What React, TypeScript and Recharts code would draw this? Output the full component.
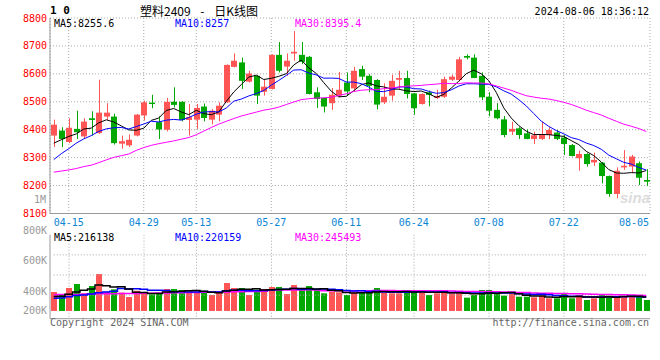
import React from 'react';
import { ComposedChart, Bar, Line, XAxis, YAxis, CartesianGrid } from 'recharts';

const MONO = '"DejaVu Sans Mono", monospace';
const RED = '#ff5555';
const GREEN = '#00a800';
const BORDER = '#999999';
const GRID = '#aaaaaa';

const dates = [
  '04-11', '04-12', '04-15', '04-16', '04-17', '04-18', '04-19', '04-22', '04-23', '04-24',
  '04-25', '04-26', '04-29', '04-30', '05-06', '05-07', '05-08', '05-09', '05-10', '05-13',
  '05-14', '05-15', '05-16', '05-17', '05-20', '05-21', '05-22', '05-23', '05-24', '05-27',
  '05-28', '05-29', '05-30', '05-31', '06-03', '06-04', '06-05', '06-06', '06-07', '06-11',
  '06-12', '06-13', '06-14', '06-17', '06-18', '06-19', '06-20', '06-21', '06-24', '06-25',
  '06-26', '06-27', '06-28', '07-01', '07-02', '07-03', '07-04', '07-05', '07-08', '07-09',
  '07-10', '07-11', '07-12', '07-15', '07-16', '07-17', '07-18', '07-19', '07-22', '07-23',
  '07-24', '07-25', '07-26', '07-29', '07-30', '07-31', '08-01', '08-02', '08-05', '08-06',
];

const opens = [
  8379, 8397, 8356, 8403, 8376, 8441, 8388, 8447, 8447, 8350,
  8344, 8379, 8451, 8497, 8427, 8400, 8500, 8500, 8435, 8436,
  8483, 8436, 8454, 8498, 8625, 8641, 8572, 8593, 8536, 8546,
  8668, 8626, 8673, 8668, 8661, 8534, 8514, 8495, 8522, 8569,
  8548, 8617, 8593, 8578, 8498, 8522, 8579, 8585, 8530, 8492,
  8534, 8514, 8518, 8579, 8578, 8664, 8658, 8593, 8518, 8471,
  8437, 8393, 8405, 8387, 8367, 8367, 8381, 8390, 8372, 8345,
  8298, 8313, 8283, 8282, 8234, 8170, 8265, 8268, 8280, 8220,
];
const highs = [
  8436, 8409, 8441, 8468, 8441, 8466, 8579, 8495, 8457, 8379,
  8383, 8456, 8504, 8525, 8448, 8514, 8552, 8502, 8492, 8492,
  8494, 8474, 8498, 8634, 8673, 8658, 8611, 8595, 8578, 8670,
  8714, 8673, 8753, 8714, 8664, 8552, 8516, 8549, 8607, 8605,
  8625, 8629, 8599, 8581, 8566, 8597, 8611, 8611, 8532, 8530,
  8540, 8543, 8590, 8597, 8661, 8670, 8670, 8605, 8534, 8495,
  8449, 8429, 8409, 8401, 8393, 8429, 8409, 8399, 8381, 8349,
  8325, 8316, 8318, 8284, 8236, 8265, 8327, 8310, 8286, 8259,
];
const lows = [
  8338, 8338, 8352, 8367, 8367, 8379, 8385, 8435, 8347, 8332,
  8338, 8376, 8433, 8477, 8367, 8394, 8480, 8430, 8379, 8403,
  8430, 8419, 8430, 8496, 8623, 8546, 8569, 8492, 8522, 8544,
  8605, 8593, 8647, 8635, 8526, 8478, 8462, 8471, 8516, 8522,
  8536, 8578, 8534, 8473, 8492, 8504, 8546, 8512, 8454, 8490,
  8484, 8510, 8514, 8575, 8573, 8652, 8585, 8506, 8448, 8437,
  8373, 8381, 8367, 8366, 8349, 8363, 8366, 8363, 8310, 8304,
  8253, 8268, 8270, 8208, 8160, 8154, 8256, 8246, 8202, 8199,
];
const closes = [
  8418, 8367, 8407, 8391, 8429, 8435, 8461, 8461, 8352, 8359,
  8364, 8454, 8498, 8492, 8401, 8500, 8489, 8435, 8445, 8478,
  8442, 8468, 8486, 8632, 8647, 8575, 8601, 8522, 8554, 8668,
  8611, 8647, 8679, 8643, 8528, 8510, 8483, 8525, 8543, 8537,
  8611, 8590, 8557, 8490, 8518, 8575, 8585, 8528, 8477, 8528,
  8525, 8521, 8581, 8590, 8652, 8658, 8585, 8516, 8468, 8441,
  8381, 8403, 8381, 8367, 8380, 8384, 8399, 8367, 8349, 8306,
  8313, 8277, 8292, 8234, 8170, 8253, 8271, 8304, 8228, 8214,
];
const volumes = [
  289000, 264000, 339000, 388000, 273000, 363000, 512000, 293000, 322000, 281000,
  227000, 305000, 281000, 260000, 273000, 326000, 326000, 314000, 289000, 285000,
  285000, 252000, 285000, 401000, 339000, 339000, 252000, 318000, 326000, 351000,
  351000, 264000, 376000, 314000, 363000, 314000, 273000, 293000, 285000, 252000,
  285000, 285000, 285000, 339000, 285000, 273000, 273000, 314000, 301000, 285000,
  252000, 273000, 314000, 273000, 285000, 219000, 252000, 314000, 314000, 273000,
  244000, 273000, 231000, 231000, 223000, 244000, 211000, 211000, 277000, 211000,
  252000, 190000, 211000, 252000, 244000, 231000, 231000, 231000, 252000, 190000,
];

// moving averages of the days before the first candle
const ma5Head = [8352, 8364, 8376, 8385];
const ma10Head = [8293, 8314, 8332, 8352, 8367, 8379, 8394, 8403, 8407];
const ma30Head = [
  8248, 8252, 8256, 8261, 8268, 8273, 8282, 8292, 8301, 8307,
  8313, 8326, 8336, 8344, 8350, 8355, 8360, 8366, 8372, 8382,
  8395, 8408, 8420, 8430, 8440, 8449, 8456, 8463, 8470,
];
const volMa5Head = [233000, 238000, 262000, 290000];
const volMa10Head = [211000, 216000, 231000, 246000, 252000, 263000, 281000, 290000, 299000];
const volMa30Head = [
  256000, 257000, 259000, 259000, 261000, 263000, 266000, 267000, 268000, 270000,
  271000, 272000, 274000, 275000, 276000, 278000, 280000, 281000, 282000, 284000,
  285000, 286000, 288000, 290000, 292000, 293000, 294000, 296000, 298000,
];

const labelDates = ['04-15', '04-29', '05-13', '05-27', '06-11', '06-24', '07-08', '07-22', '08-05'];
const gridDates = ['04-15', '04-29', '05-13', '05-27', '06-11', '06-24', '07-08', '07-22'];
const priceTicks = [8100, 8200, 8300, 8400, 8500, 8600, 8700, 8800];
const volGridTicks = [250000, 500000, 750000];
const volLabelTicks = [200000, 400000, 600000, 800000];
const VOL_BASE = 54000;
const VOL_MIN = -42000;
const VOL_MAX = 1000000;

const movingAvg = (values: number[], n: number, head: number[]) =>
  values.map((_, i) =>
    i < n - 1 ? head[i] : values.slice(i - n + 1, i + 1).reduce((a, b) => a + b, 0) / n
  );

const ma5 = movingAvg(closes, 5, ma5Head);
const ma10 = movingAvg(closes, 10, ma10Head);
const ma30 = movingAvg(closes, 30, ma30Head);
const vma5 = movingAvg(volumes, 5, volMa5Head);
const vma10 = movingAvg(volumes, 10, volMa10Head);
const vma30 = movingAvg(volumes, 30, volMa30Head);

const priceData = dates.map((date, i) => ({
  date,
  open: opens[i],
  high: highs[i],
  low: lows[i],
  close: closes[i],
  range: [lows[i], highs[i]],
  ma5: ma5[i],
  ma10: ma10[i],
  ma30: ma30[i],
}));

const volData = dates.map((date, i) => ({
  date,
  up: closes[i] >= opens[i],
  grid: gridDates.includes(date),
  volume: volumes[i],
  vol: [VOL_BASE, volumes[i]],
  ma5: vma5[i],
  ma10: vma10[i],
  ma30: vma30[i],
  ...Object.fromEntries(volGridTicks.map((v) => [`g${v}`, v])),
}));

const Candle = (props: any) => {
  let { x, y, width, height } = props;
  const { open, close, high, low } = props.payload;
  if (height < 0) {
    y += height;
    height = -height;
  }
  const color = close >= open ? RED : GREEN;
  const k = high === low ? 0 : height / (high - low);
  const yo = y + (high - open) * k;
  const yc = y + (high - close) * k;
  const left = Math.round(x);
  const w = Math.round(width);
  return (
    <g>
      <rect x={left + Math.floor(w / 2)} y={y} width={1} height={Math.max(1, height)} fill={color} />
      <rect x={left} y={Math.min(yo, yc)} width={w} height={Math.max(1, Math.abs(yo - yc))} fill={color} />
    </g>
  );
};

// volume bar; on the grid dates it also draws the dotted vertical grid line,
// spanning the axis domain with the bar's own value-to-pixel ratio
const VolBar = (props: any) => {
  let { x, y, width, height } = props;
  const { up, grid, volume } = props.payload;
  if (height < 0) {
    y += height;
    height = -height;
  }
  const k = height / (volume - VOL_BASE);
  const cx = x + width / 2;
  return (
    <g>
      {grid && (
        <line
          x1={cx}
          x2={cx}
          y1={y - (VOL_MAX - volume) * k}
          y2={y + (volume - VOL_MIN) * k}
          stroke={GRID}
          strokeDasharray="1 2"
        />
      )}
      <rect x={Math.round(x)} y={y} width={Math.round(width)} height={height} fill={up ? RED : GREEN} />
    </g>
  );
};

// draws nothing, but keeps the axis ticks alive for the grid
const NoTick = () => <g />;

const DateTick = ({ x, y, payload }: any) => (
  <text x={Math.min(x, 634)} y={y} dy="0.71em" textAnchor="middle" fill="#0a86d4" fontSize={10} fontFamily={MONO}>
    {payload.value}
  </text>
);

const VolTick = ({ x, y, payload }: any) => (
  <text x={x} y={Math.min(y, 88.3)} dy="0.355em" textAnchor="end" fill="#999" fontSize={10} fontFamily={MONO}>
    {payload.value / 1000}K
  </text>
);

const txt = (extra: React.CSSProperties): React.CSSProperties => ({
  position: 'absolute',
  fontFamily: MONO,
  fontSize: 10,
  lineHeight: '10px',
  whiteSpace: 'pre',
  ...extra,
});

const App = () => {
  return (
    <div style={{ position: 'absolute', left: 0, top: 0, width: 660, height: 360, background: '#fff', overflow: 'hidden' }}>
      <div style={{ position: 'absolute', left: 0, top: 0 }}>
        <ComposedChart width={660} height={230} data={priceData} margin={{ top: 18, right: 10, bottom: 0, left: 0 }}>
          <CartesianGrid xAxisId="top" stroke={GRID} strokeDasharray="1 2" />
          <XAxis
            dataKey="date"
            ticks={labelDates}
            interval={0}
            tick={<DateTick />}
            tickLine={false}
            tickSize={2}
            tickMargin={3}
            axisLine={{ stroke: BORDER }}
            height={16.5}
          />
          <XAxis
            xAxisId="top"
            dataKey="date"
            orientation="top"
            ticks={gridDates}
            interval={0}
            tick={<NoTick />}
            tickLine={false}
            axisLine={{ stroke: BORDER }}
            height={0}
          />
          <YAxis
            domain={[8100, 8800]}
            ticks={priceTicks}
            interval={0}
            allowDataOverflow
            tickLine={false}
            tickSize={1}
            tickMargin={2}
            axisLine={{ stroke: BORDER }}
            tick={{ fill: '#ff0000', fontSize: 10, fontFamily: MONO }}
            width={50}
          />
          <YAxis
            yAxisId="right"
            orientation="right"
            domain={[8100, 8800]}
            allowDataOverflow
            tick={false}
            tickLine={false}
            axisLine={{ stroke: BORDER }}
            width={0}
          />
          <Bar dataKey="range" barSize={6} shape={<Candle />} isAnimationActive={false} />
          <Line dataKey="ma5" stroke="#000" strokeWidth={1} dot={false} activeDot={false} isAnimationActive={false} />
          <Line dataKey="ma10" stroke="#0000ff" strokeWidth={1} dot={false} activeDot={false} isAnimationActive={false} />
          <Line dataKey="ma30" stroke="#ff00ff" strokeWidth={1} dot={false} activeDot={false} isAnimationActive={false} />
        </ComposedChart>
      </div>

      <div style={{ position: 'absolute', left: 0, top: 222 }}>
        <ComposedChart width={660} height={138} data={volData} margin={{ top: 12.7, right: 10, bottom: 0, left: 0 }}>
          <XAxis dataKey="date" tick={false} tickLine={false} axisLine={{ stroke: BORDER }} height={41.3} />
          <XAxis
            xAxisId="top"
            dataKey="date"
            orientation="top"
            tick={false}
            tickLine={false}
            axisLine={{ stroke: BORDER }}
            height={0}
          />
          <YAxis
            domain={[VOL_MIN, VOL_MAX]}
            allowDataOverflow
            tick={false}
            tickLine={false}
            axisLine={false}
            width={0}
          />
          <YAxis
            yAxisId="lbl"
            domain={[217500, 771000]}
            ticks={volLabelTicks}
            interval={0}
            allowDataOverflow
            tickLine={false}
            tickSize={1}
            tickMargin={2}
            axisLine={{ stroke: BORDER }}
            tick={<VolTick />}
            width={50}
          />
          <YAxis
            yAxisId="right"
            orientation="right"
            domain={[VOL_MIN, VOL_MAX]}
            allowDataOverflow
            tick={false}
            tickLine={false}
            axisLine={{ stroke: BORDER }}
            width={0}
          />
          {volGridTicks.map((v) => (
            <Line
              key={v}
              dataKey={`g${v}`}
              stroke={GRID}
              strokeWidth={1}
              strokeDasharray="1 2"
              dot={false}
              activeDot={false}
              isAnimationActive={false}
            />
          ))}
          <Bar dataKey="vol" barSize={6} shape={<VolBar />} isAnimationActive={false} />
          <Line type="step" dataKey="ma30" stroke="#ff00ff" strokeWidth={1.5} dot={false} activeDot={false} isAnimationActive={false} />
          <Line type="step" dataKey="ma10" stroke="#0000ff" strokeWidth={1.5} dot={false} activeDot={false} isAnimationActive={false} />
          <Line type="step" dataKey="ma5" stroke="#000" strokeWidth={1.5} dot={false} activeDot={false} isAnimationActive={false} />
        </ComposedChart>
      </div>

      <div style={txt({ left: 50, top: 5, fontSize: 11, lineHeight: '12px', fontWeight: 'bold', color: '#000' })}>1 0</div>
      <div
        style={txt({
          left: 140,
          top: 3,
          fontFamily: '"Noto Sans CJK SC", sans-serif',
          fontSize: 12,
          lineHeight: '15px',
          wordSpacing: 7,
          color: '#000',
        })}
      >
        塑料2409 - 日K线图
      </div>
      <div style={txt({ right: 11, top: 7, color: '#000' })}>2024-08-06 18:36:12</div>

      <div style={txt({ left: 54, top: 19, color: '#000' })}>MA5:8255.6</div>
      <div style={txt({ left: 175, top: 19, color: '#0000ff' })}>MA10:8257</div>
      <div style={txt({ left: 295, top: 19, color: '#ff00ff' })}>MA30:8395.4</div>
      <div style={txt({ right: 614, top: 195, color: '#999' })}>1M</div>
      <div
        style={txt({
          left: 620,
          top: 190,
          fontFamily: '"Liberation Sans", sans-serif',
          fontSize: 15,
          lineHeight: '16px',
          fontStyle: 'italic',
          fontWeight: 'bold',
          color: '#dcdcdc',
        })}
      >
        sina
      </div>

      <div style={txt({ left: 54, top: 233, color: '#000' })}>MA5:216138</div>
      <div style={txt({ left: 175, top: 233, color: '#0000ff' })}>MA10:220159</div>
      <div style={txt({ left: 295, top: 233, color: '#ff00ff' })}>MA30:245493</div>

      <div style={txt({ left: 50, top: 318, color: '#666' })}>Copyright 2024 SINA.COM</div>
      <div style={txt({ right: 11, top: 318, color: '#666' })}>http://finance.sina.com.cn</div>
    </div>
  );
};

export default App;
